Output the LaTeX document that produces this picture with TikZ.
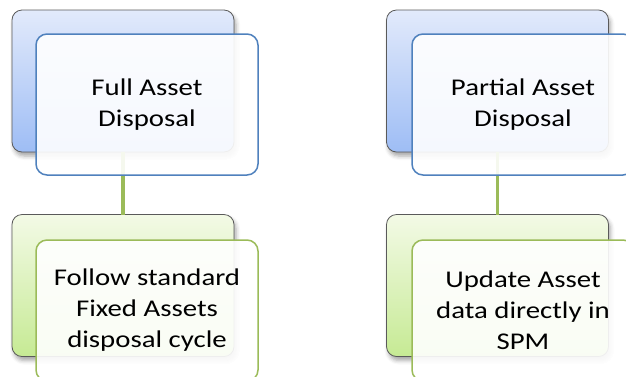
\documentclass[tikz,border=0pt]{standalone}
\usepackage{fontspec}
\setmainfont{Carlito}[FakeStretch=1.2]
\usetikzlibrary{shadows.blur}
\definecolor{bluetop}{RGB}{226,234,251}
\definecolor{bluebot}{RGB}{158,189,245}
\definecolor{greentop}{RGB}{243,250,230}
\definecolor{greenbot}{RGB}{198,234,148}
\definecolor{blueline}{RGB}{79,129,189}
\definecolor{greenline}{RGB}{155,187,89}
\definecolor{backline}{RGB}{90,90,90}
\tikzset{
  backbox/.style={draw=backline, line width=0.8pt, rounded corners=10pt,
    minimum width=222pt, minimum height=142pt, inner sep=0pt, outer sep=0pt,
    blur shadow={shadow xshift=2pt, shadow yshift=-4pt, shadow blur radius=4pt, shadow opacity=35}},
  backblue/.style={backbox, top color=bluetop, bottom color=bluebot},
  backgreen/.style={backbox, top color=greentop, bottom color=greenbot},
  frontbox/.style={line width=1.5pt, rounded corners=11pt, fill=white, fill opacity=0.9,
    text opacity=1, minimum width=222pt, minimum height=141pt, inner sep=0pt, outer sep=0pt,
    align=center, font=\fontsize{24}{31}\selectfont},
  frontblue/.style={frontbox, draw=blueline},
  frontgreen/.style={frontbox, draw=greenline},
  conn/.style={draw=greenline, line width=3.5pt}
}
\begin{document}
\begin{tikzpicture}[x=1pt,y=-1pt]
\useasboundingbox (0,0) rectangle (626,376);
% back boxes
\node[backblue] (b1) at (123,81) {};
\node[backgreen] (b3) at (123,285.5) {};
\node[backblue] (b2) at (497.5,81) {};
\node[backgreen] (b4) at (497.5,285.5) {};
% connectors
\draw[conn] (b1.south) -- (b3.north);
\draw[conn] (b2.south) -- (b4.north);
% front boxes
\node[frontblue] (f1) at (147,104.5) {Full Asset\\Disposal};
\node[frontgreen] (f3) at (147,310.5) {Follow standard\\Fixed Assets\\disposal cycle};
\node[frontblue] (f2) at (523,104.5) {Partial Asset\\Disposal};
\node[frontgreen] (f4) at (523,310.5) {Update Asset\\data directly in\\SPM};
\end{tikzpicture}
\end{document}
